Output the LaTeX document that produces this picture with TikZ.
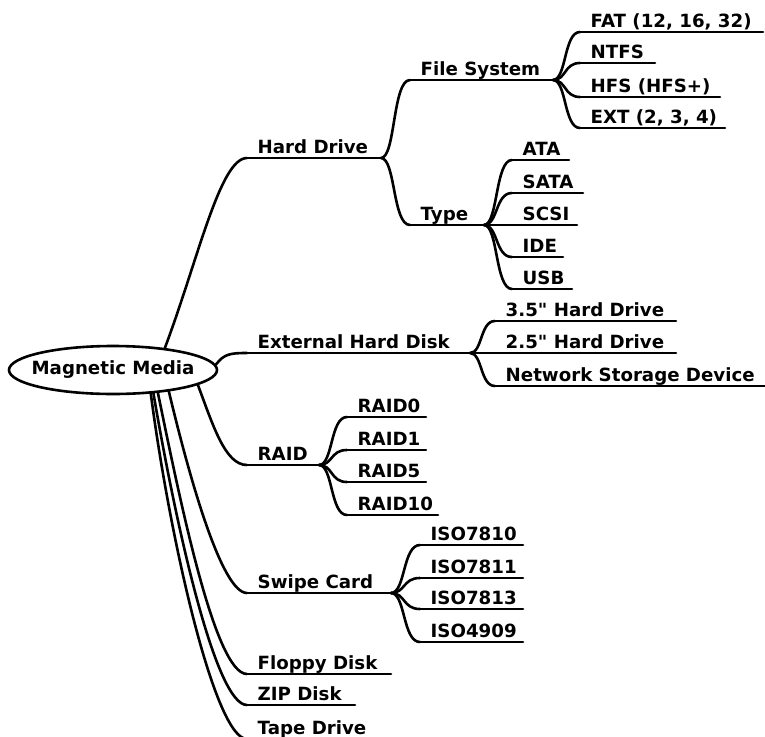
\documentclass[tikz,border=0pt]{standalone}
\usepackage{fontspec}
\newfontfamily\dv{DejaVu Sans}
\usetikzlibrary{shapes.geometric,calc}
\tikzset{
  lbl/.style={anchor=base west, inner sep=0pt, font=\dv\fontsize{18.2}{22}\bfseries\selectfont},
  edge/.style={line width=2.6pt, line cap=round},
}
\newcommand{\leaf}[5]{% name, start x, end x, y, text
  \coordinate (#1-s) at (#2,#4);
  \coordinate (#1-e) at (#3,#4);
  \node[lbl] (#1) at ({#2+10.5},{#4-4.5}) {#5};
  \draw[edge] (#1-s) -- (#1-e);
}
\newcommand{\fork}[2]{% parent end, child
  \draw[edge] let \p1=(#1), \p2=(#2-s) in (\p1) .. controls ({0.5*\x1+0.5*\x2},\y1) and ({0.6*\x1+0.4*\x2},\y2) .. (\p2);
}
\begin{document}
\begin{tikzpicture}[x=1pt,y=-1pt]
\useasboundingbox (0,0) rectangle (765,736);
\node[draw, ellipse, line width=2.6pt, minimum width=208pt, minimum height=48pt, inner sep=0pt,
  font=\dv\fontsize{18.2}{22}\bfseries\selectfont] (root) at (113,370) {\makebox[0pt]{Magnetic Media}};

% level 1
\leaf{hd}{247}{381}{158}{Hard Drive}
\leaf{ext}{247}{470}{353}{External Hard Disk}
\leaf{raid}{247}{319}{465}{RAID}
\leaf{swipe}{247}{391}{593}{Swipe Card}
\leaf{floppy}{247}{391}{674}{Floppy Disk}
\leaf{zip}{247}{355}{705}{ZIP Disk}
\leaf{tape}{247}{382}{739}{Tape Drive}

\draw[edge] (root.23) .. controls (198,260) and (220,158) .. (hd-s);
\draw[edge] (root.3) .. controls (224,354) and (230,353) .. (ext-s);
\draw[edge] (root.-10) .. controls (213,425) and (225,465) .. (raid-s);
\draw[edge] (root.-21.6) .. controls (190,480) and (222,593) .. (swipe-s);
\draw[edge] (root.-27.2) .. controls (180,500) and (215,674) .. (floppy-s);
\draw[edge] (root.-30) .. controls (175,520) and (215,705) .. (zip-s);
\draw[edge] (root.-32.3) .. controls (170,540) and (215,739) .. (tape-s);

% Hard Drive
\leaf{fs}{410}{553}{80}{File System}
\leaf{type}{410}{484}{225}{Type}
\fork{hd-e}{fs}
\fork{hd-e}{type}

\leaf{fat}{580}{763}{32}{FAT (12, 16, 32)}
\leaf{ntfs}{580}{655}{63}{NTFS}
\leaf{hfs}{580}{720}{97}{HFS (HFS+)}
\leaf{extfs}{580}{725}{128}{EXT (2, 3, 4)}
\fork{fs-e}{fat}
\fork{fs-e}{ntfs}
\fork{fs-e}{hfs}
\fork{fs-e}{extfs}

\leaf{ata}{512}{569}{160}{ATA}
\leaf{sata}{512}{583}{193}{SATA}
\leaf{scsi}{512}{577}{225}{SCSI}
\leaf{ide}{512}{563}{257}{IDE}
\leaf{usb}{512}{572}{289}{USB}
\fork{type-e}{ata}
\fork{type-e}{sata}
\draw[edge] (type-e) -- (scsi-s);
\fork{type-e}{ide}
\fork{type-e}{usb}

% External
\leaf{hd35}{495}{676}{321}{3.5" Hard Drive}
\leaf{hd25}{495}{676}{353}{2.5" Hard Drive}
\leaf{nsd}{495}{770}{386}{Network Storage Device}
\fork{ext-e}{hd35}
\draw[edge] (ext-e) -- (hd25-s);
\fork{ext-e}{nsd}

% RAID
\leaf{r0}{347}{426}{417}{RAID0}
\leaf{r1}{347}{426}{450}{RAID1}
\leaf{r5}{347}{426}{482}{RAID5}
\leaf{r10}{347}{438}{515}{RAID10}
\fork{raid-e}{r0}
\fork{raid-e}{r1}
\fork{raid-e}{r5}
\fork{raid-e}{r10}

% Swipe
\leaf{i10}{420}{523}{545}{ISO7810}
\leaf{i11}{420}{523}{578}{ISO7811}
\leaf{i13}{420}{523}{609}{ISO7813}
\leaf{i09}{420}{523}{642}{ISO4909}
\fork{swipe-e}{i10}
\fork{swipe-e}{i11}
\fork{swipe-e}{i13}
\fork{swipe-e}{i09}
\end{tikzpicture}
\end{document}
